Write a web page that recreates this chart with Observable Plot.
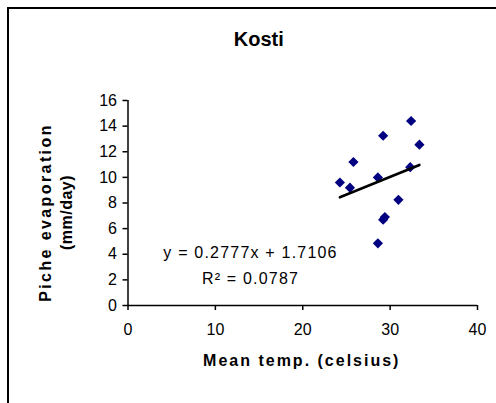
<!DOCTYPE html>
<html>
<head>
<meta charset="utf-8">
<script src="https://cdn.jsdelivr.net/npm/d3@7"></script>
<script src="https://cdn.jsdelivr.net/npm/@observablehq/plot@0.6"></script>
<style>
  html, body { margin: 0; padding: 0; background: #fff; overflow: hidden; width: 496px; height: 403px; }
  #wrap { position: relative; width: 496px; height: 403px; overflow: hidden; }
  #border { position: absolute; left: 7px; top: 7px; width: 800px; height: 800px; border: 2px solid #000; pointer-events: none; }
  #chart { position: absolute; left: 0; top: 0; }
</style>
</head>
<body>
<div id="wrap"><div id="chart"></div><div id="border"></div></div>
<script>
// Data
const title = "Kosti";
const xLabel = "Mean temp. (celsius)";
const yLabelLines = ["Piche evaporation", "(mm/day)"];
const meanTemp = [24.25, 25.4, 25.8, 28.6, 29.2, 32.4, 33.35, 32.3, 30.95, 29.2, 29.4, 28.6];
const picheEvap = [9.6, 9.2, 11.2, 10.0, 13.25, 14.4, 12.55, 10.8, 8.25, 6.7, 6.9, 4.85];
const xTicks = [0, 10, 20, 30, 40];
const yTicks = [0, 2, 4, 6, 8, 10, 12, 14, 16];
const slope = 0.2777;
const intercept = 1.7106;
const equationText = "y = 0.2777x + 1.7106";
const r2Text = "R\u00B2 = 0.0787";

const points = meanTemp.map((t, i) => ({t, e: picheEvap[i]}));
const xMin = d3.min(meanTemp), xMax = d3.max(meanTemp);
const trend = [xMin, xMax].map(t => ({t, e: slope * t + intercept}));

const plot = Plot.plot({
  width: 496,
  height: 403,
  marginLeft: 127.5,
  marginRight: 19,
  marginTop: 100,
  marginBottom: 98,
  style: {fontFamily: "'Liberation Sans', Arial, sans-serif", fontSize: "16px", color: "#000", background: "#fff"},
  x: {domain: [0, 40]},
  y: {domain: [0, 16]},
  marks: [
    Plot.axisX(xTicks, {tickSize: 5, tickPadding: 13, strokeWidth: 1.5, label: null, fontSize: 16}),
    Plot.axisY(yTicks, {tickSize: 5, tickPadding: 6, strokeWidth: 1.5, label: null, fontSize: 16}),
    Plot.ruleY([0], {stroke: "#000", strokeWidth: 1.5}),
    Plot.ruleX([0], {stroke: "#000", strokeWidth: 1.5}),
    Plot.dot(points, {x: "t", y: "e", symbol: "diamond2", r: 4.6, fill: "#000080", stroke: "none"}),
    Plot.line(trend, {x: "t", y: "e", stroke: "#000", strokeWidth: 2.6}),
    Plot.text([title], {frameAnchor: "top", dx: -44, dy: -55, textAnchor: "middle", lineAnchor: "bottom", fontSize: 20, fontWeight: "bold"}),
    Plot.text([xLabel], {frameAnchor: "bottom", dx: -1, dy: 60, textAnchor: "middle", lineAnchor: "bottom", fontSize: 16, fontWeight: "bold"}),
    Plot.text([yLabelLines[0]], {frameAnchor: "left", dx: -77.5, dy: 9.5, rotate: -90, textAnchor: "middle", lineAnchor: "bottom", fontSize: 16, fontWeight: "bold"}),
    Plot.text([yLabelLines[1]], {frameAnchor: "left", dx: -56.5, dy: 9.5, rotate: -90, textAnchor: "middle", lineAnchor: "bottom", fontSize: 16, fontWeight: "bold"}),
    Plot.text([equationText + "\n" + r2Text], {frameAnchor: "bottom-left", dx: 122.5, dy: -22, lineAnchor: "bottom", textAnchor: "middle", lineHeight: 1.625, fontSize: 16})
  ]
});

document.getElementById("chart").appendChild(plot);
const svg = d3.select(plot);
const spacing = (match, value) =>
  svg.selectAll("text").filter(function() { return this.textContent === match; }).style("letter-spacing", value);
spacing(xLabel, "2px");
spacing(yLabelLines[0], "2.4px");
spacing(yLabelLines[1], "0.5px");
spacing(equationText + r2Text, "1.2px");
</script>
</body>
</html>
